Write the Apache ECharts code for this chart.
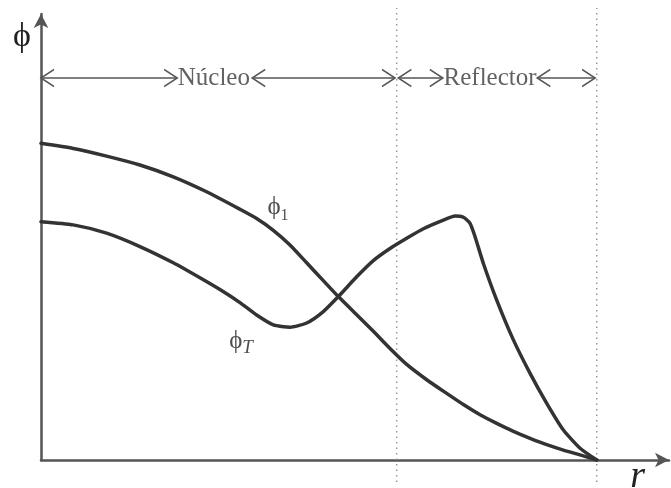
<!DOCTYPE html>
<html>
<head>
<meta charset="utf-8">
<script src="https://cdn.jsdelivr.net/npm/echarts@6/dist/echarts.min.js"></script>
<style>
  html, body { margin: 0; padding: 0; background: #fff; }
  #chart { width: 671px; height: 488px; }
</style>
</head>
<body>
<div id="chart"></div>
<script>
// Radial position (normalised so the reflector edge is r = 1)
const rFast = [0, 0.058, 0.118, 0.178, 0.238, 0.298, 0.358, 0.388, 0.418, 0.448, 0.478, 0.508, 0.535, 0.568, 0.598, 0.628, 0.658, 0.694, 0.730, 0.760, 0.790, 0.820, 0.850, 0.880, 0.910, 0.940, 0.970, 1.0];
// Fast flux φ1
const phiFast = [0.994, 0.978, 0.954, 0.926, 0.889, 0.842, 0.787, 0.758, 0.721, 0.675, 0.619, 0.563, 0.513, 0.456, 0.404, 0.350, 0.300, 0.252, 0.209, 0.174, 0.142, 0.115, 0.090, 0.068, 0.048, 0.031, 0.016, 0];

const rThermal = [0, 0.058, 0.118, 0.178, 0.238, 0.286, 0.322, 0.358, 0.388, 0.418, 0.448, 0.478, 0.508, 0.535, 0.568, 0.598, 0.628, 0.658, 0.688, 0.724, 0.745, 0.760, 0.772, 0.781, 0.796, 0.820, 0.850, 0.880, 0.910, 0.940, 0.970, 1.0];
// Thermal flux φT
const phiThermal = [0.748, 0.738, 0.712, 0.670, 0.619, 0.572, 0.535, 0.494, 0.455, 0.424, 0.417, 0.430, 0.466, 0.513, 0.575, 0.626, 0.664, 0.696, 0.726, 0.753, 0.766, 0.762, 0.743, 0.701, 0.617, 0.502, 0.377, 0.272, 0.178, 0.094, 0.037, 0];

// Region boundaries
const boundaries = [0.64, 1.0];
// Double-headed span arrows and region names
const spans = [[0, 0.245], [0.38, 0.637], [0.643, 0.723], [0.893, 0.997]];
const regions = [{ name: 'Núcleo', r: 0.311 }, { name: 'Reflector', r: 0.808 }];
const spanLevel = 1.199;

const curveLabels = [
  { text: '{p|ϕ}{s|1}', r: 0.4265, phi: 0.794 },
  { text: '{p|ϕ}{t|T}', r: 0.36, phi: 0.3735 }
];

const SERIF = '"Liberation Serif", "DejaVu Serif", serif';
const INK = '#333';
const AXIS = '#555';
const X_MAX = 1.13, Y_MAX = 1.4;

const leftHead = 'path://M13,0 L0,8.5 L13,17';
const rightHead = 'path://M0,0 L13,8.5 L0,17';

const series = [];

// dotted region boundaries spanning the full height
boundaries.forEach(b => {
  series.push({
    type: 'line', xAxisIndex: 1, yAxisIndex: 1, silent: true, symbol: 'none', z: 1,
    data: [[b, 0], [b, 1]],
    lineStyle: { color: '#999', width: 1.5, type: [1.5, 4] }
  });
});

// span arrows
spans.forEach(s => {
  series.push({
    type: 'line', silent: true, z: 3,
    data: [
      { value: [s[0], spanLevel], symbol: leftHead, symbolOffset: [6.5, 0] },
      { value: [s[1], spanLevel], symbol: rightHead, symbolOffset: [-6.5, 0] }
    ],
    symbolSize: [13, 17],
    showSymbol: true,
    itemStyle: { color: 'transparent', borderColor: '#555', borderWidth: 1.5 },
    lineStyle: { color: '#555', width: 1.5 }
  });
});

// region names
series.push({
  type: 'scatter', silent: true, symbolSize: 0, z: 4,
  data: regions.map(g => ({ value: [g.r, spanLevel], name: g.name })),
  label: {
    show: true, position: 'inside', formatter: p => p.name,
    fontFamily: SERIF, fontSize: 25, color: '#3a3a3a'
  }
});

// flux curves
series.push({
  type: 'line', name: 'φ1', smooth: 0.2, symbol: 'none', z: 5,
  data: rFast.map((r, i) => [r, phiFast[i]]),
  lineStyle: { color: INK, width: 3.5, join: 'round', cap: 'round' }
});
series.push({
  type: 'line', name: 'φT', smooth: 0.2, symbol: 'none', z: 5,
  data: rThermal.map((r, i) => [r, phiThermal[i]]),
  lineStyle: { color: INK, width: 3.5, join: 'round', cap: 'round' }
});

// curve names
series.push({
  type: 'scatter', silent: true, symbolSize: 0, z: 6,
  data: curveLabels.map(c => ({ value: [c.r, c.phi], name: c.text })),
  label: {
    show: true, position: 'inside', formatter: p => p.name,
    rich: {
      p: { fontFamily: SERIF, fontSize: 25, color: '#222', verticalAlign: 'bottom' },
      s: { fontFamily: SERIF, fontSize: 16, color: '#222', verticalAlign: 'bottom', padding: [0, 0, -4, 0] },
      t: { fontFamily: SERIF, fontStyle: 'italic', fontSize: 19, color: '#222', verticalAlign: 'bottom', padding: [0, 0, -4, 0] }
    }
  }
});

const chart = echarts.init(document.getElementById('chart'), null, { renderer: 'canvas' });
chart.setOption({
  animation: false,
  backgroundColor: '#fff',
  grid: [
    { left: 41, right: 2, top: 14, bottom: 28, outerBoundsMode: 'none', containLabel: false },
    { left: 41, right: 2, top: 8, bottom: 6, outerBoundsMode: 'none', containLabel: false }
  ],
  xAxis: [
    {
      type: 'value', min: 0, max: X_MAX, gridIndex: 0,
      name: 'r', nameLocation: 'end', nameGap: -24,
      nameTextStyle: { fontFamily: SERIF, fontStyle: 'italic', fontSize: 38, color: '#222', align: 'right', verticalAlign: 'top', padding: [-2, 0, 0, 0] },
      axisLine: { show: true, onZero: false, symbol: ['none', 'arrow'], symbolSize: [11, 14], lineStyle: { color: AXIS, width: 2.5 } },
      axisTick: { show: false }, axisLabel: { show: false }, splitLine: { show: false }
    },
    {
      type: 'value', min: 0, max: X_MAX, gridIndex: 1, show: false
    }
  ],
  yAxis: [
    {
      type: 'value', min: 0, max: Y_MAX, gridIndex: 0,
      name: 'ϕ', nameLocation: 'end', nameGap: -6,
      nameTextStyle: { fontFamily: SERIF, fontSize: 34, color: '#222', align: 'right', verticalAlign: 'top', padding: [0, 10, 0, 0] },
      axisLine: { show: true, onZero: false, symbol: ['none', 'arrow'], symbolSize: [11, 14], lineStyle: { color: AXIS, width: 2.5 } },
      axisTick: { show: false }, axisLabel: { show: false }, splitLine: { show: false }
    },
    {
      type: 'value', min: 0, max: 1, gridIndex: 1, show: false
    }
  ],
  series: series
});
</script>
</body>
</html>
